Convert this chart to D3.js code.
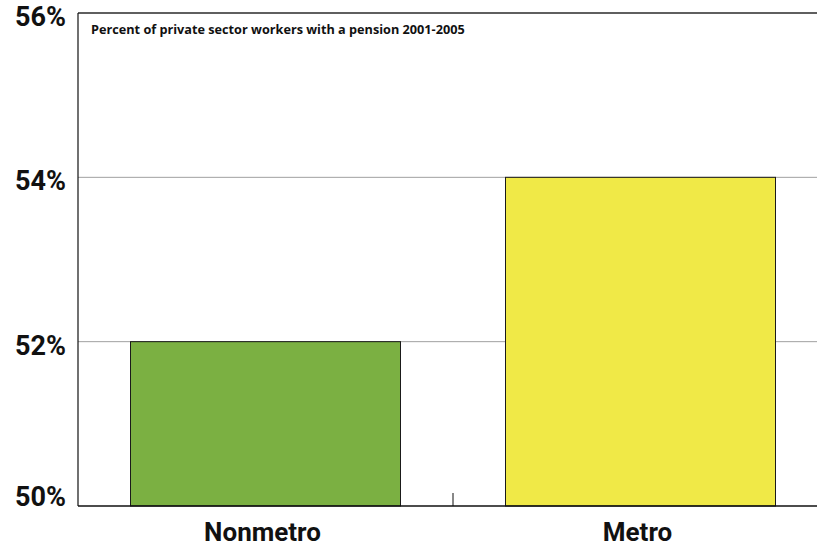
<!DOCTYPE html>
<html>
<head>
<meta charset="utf-8">
<script src="https://cdn.jsdelivr.net/npm/d3@7"></script>
<style>
  html, body { margin: 0; padding: 0; background: #fff; }
  svg { display: block; }
  text { font-weight: bold; fill: #111; }
  .big { font-family: Roboto, "Open Sans", sans-serif; }
  .small { font-family: "Open Sans", "DejaVu Sans", sans-serif; }
</style>
</head>
<body>
<svg id="chart" width="817" height="546"></svg>
<script>
// Pension coverage by area type
const categories = ["Nonmetro", "Metro"];
const values = [52, 54];
const barColors = ["#7bb042", "#f0e947"];
const yTicks = [50, 52, 54, 56];
const subtitle = "Percent of private sector workers with a pension 2001-2005";

const svg = d3.select("#chart");
const plotLeft = 78, plotRight = 828, plotTop = 13, plotBottom = 506;

const x = d3.scaleBand().domain(categories).range([plotLeft, plotRight]).paddingInner(0).paddingOuter(0);
const y = d3.scaleLinear().domain([50, 56]).range([plotBottom, plotTop]);

// horizontal gridlines
svg.append("g").selectAll("line")
  .data(yTicks.filter(t => t > 50 && t < 56))
  .join("line")
  .attr("x1", plotLeft).attr("x2", plotRight)
  .attr("y1", d => y(d)).attr("y2", d => y(d))
  .attr("stroke", "#a0a0a0").attr("stroke-width", 1);

// bars
const barW = x.bandwidth() * 0.72;
svg.append("g").selectAll("rect")
  .data(categories)
  .join("rect")
  .attr("x", d => x(d) + (x.bandwidth() - barW) / 2)
  .attr("width", barW)
  .attr("y", (d, i) => y(values[i]))
  .attr("height", (d, i) => y(50) - y(values[i]))
  .attr("fill", (d, i) => barColors[i])
  .attr("stroke", "#1a1a1a").attr("stroke-width", 1);

// frame: top border, left axis, baseline
svg.append("line").attr("x1", plotLeft).attr("x2", plotRight).attr("y1", plotTop).attr("y2", plotTop)
  .attr("stroke", "#2a2a2a").attr("stroke-width", 1.6);
svg.append("line").attr("x1", plotLeft).attr("x2", plotLeft).attr("y1", plotTop).attr("y2", plotBottom)
  .attr("stroke", "#111").attr("stroke-width", 1.2);
svg.append("line").attr("x1", plotLeft).attr("x2", plotRight).attr("y1", plotBottom).attr("y2", plotBottom)
  .attr("stroke", "#111").attr("stroke-width", 1.6);

// category divider tick on the baseline
svg.append("line")
  .attr("x1", x(categories[1])).attr("x2", x(categories[1]))
  .attr("y1", plotBottom - 13).attr("y2", plotBottom)
  .attr("stroke", "#111").attr("stroke-width", 1);

// y tick labels (the lowest one sits on the baseline instead of below it)
svg.append("g").selectAll("text")
  .data(yTicks)
  .join("text")
  .attr("class", "big")
  .attr("x", 66)
  .attr("y", d => d === yTicks[0] ? y(d) : y(d) + 13)
  .attr("text-anchor", "end")
  .attr("font-size", 27)
  .text(d => d + "%");

// category labels
svg.append("g").selectAll("text")
  .data(categories)
  .join("text")
  .attr("class", "big")
  .attr("x", d => x(d) + x.bandwidth() / 2 - 3)
  .attr("y", 541)
  .attr("text-anchor", "middle")
  .attr("font-size", 26)
  .text(d => d);

// subtitle inside the plot
svg.append("text")
  .attr("class", "small")
  .attr("x", 91).attr("y", 34)
  .attr("font-size", 12.7)
  .text(subtitle);
</script>
</body>
</html>
